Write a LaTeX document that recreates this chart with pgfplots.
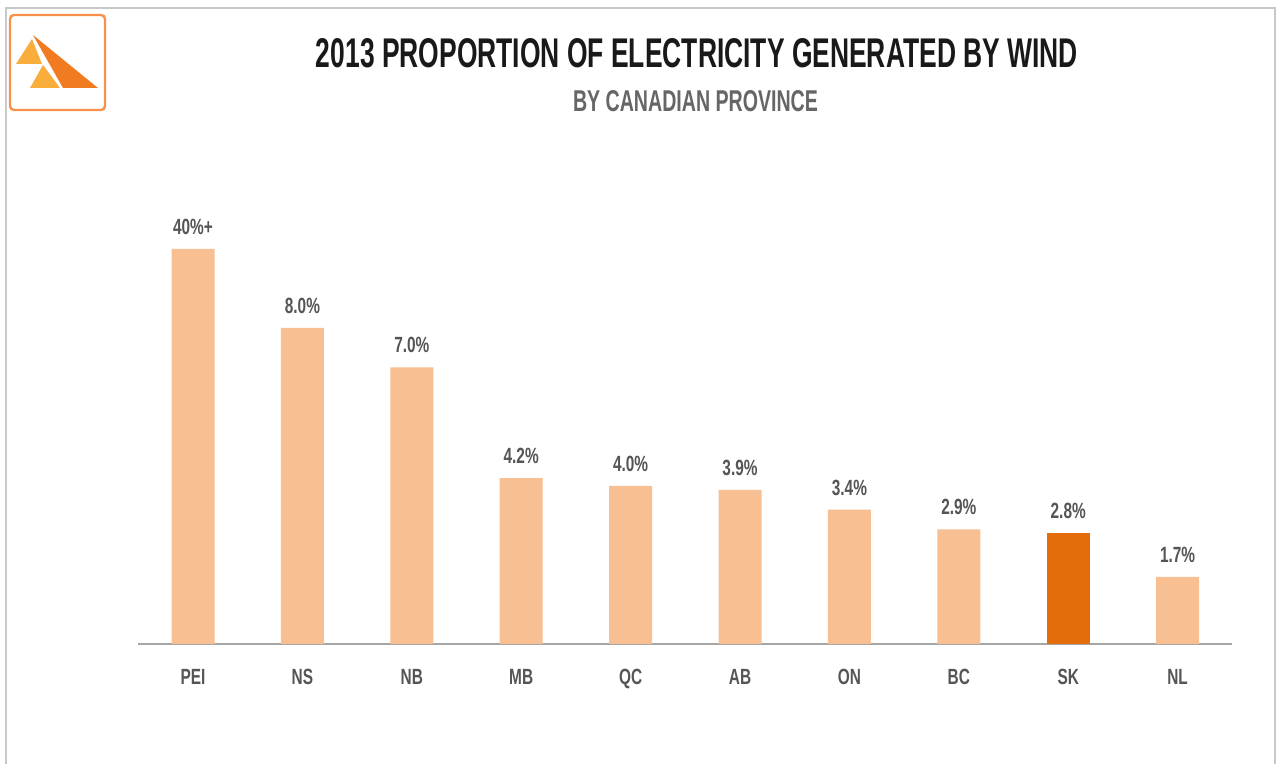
\documentclass[border=0pt]{standalone}
\usepackage{pgfplots}
\pgfplotsset{compat=1.18}
\usepackage{pgfplotstable}
\usepackage{fontspec}
\setmainfont{Liberation Sans}
\newfontfamily\cond[FakeStretch=0.7]{Liberation Sans}
\definecolor{barlight}{HTML}{F8C092}
\definecolor{bardark}{HTML}{E46C0A}
\definecolor{lbl}{HTML}{555555}
\definecolor{frame}{HTML}{C8C8C8}
\definecolor{logoline}{HTML}{F7904A}
\definecolor{logolight}{HTML}{F9AE3C}
\definecolor{logodark}{HTML}{F07B21}

\pgfplotstableread{
x y label
0 10.0 40\%+
1 8.0 8.0\%
2 7.0 7.0\%
3 4.2 4.2\%
4 4.0 4.0\%
5 3.9 3.9\%
6 3.4 3.4\%
7 2.9 2.9\%
9 1.7 1.7\%
}\lightdata
\pgfplotstableread{
x y label
8 2.8 2.8\%
}\darkdata

\begin{document}
\begin{tikzpicture}[x=0.5pt,y=0.5pt]
\useasboundingbox (0,0) rectangle (1278,764);
\fill[white] (0,0) rectangle (1278,764);
% frame
\draw[frame, line width=1.2pt] (6,-6) -- (6,756) -- (1275,756) -- (1275,-6);
% logo
\draw[logoline, line width=1.2pt, rounded corners=2pt] (10,749) rectangle (105,654);
\fill[logolight] (16,700) -- (32,725) -- (42,700) -- cycle;
\fill[logolight] (30,676) -- (43,699) -- (60,676) -- cycle;
\fill[logodark] (33,729) -- (98,676) -- (63,676) -- cycle;
% titles
\node[anchor=base, inner sep=0pt, text=black!90] at (697,696)
  {\resizebox{381pt}{14.5pt}{\bfseries 2013 PROPORTION OF ELECTRICITY GENERATED BY WIND}};
\node[anchor=base, inner sep=0pt, text=black!60] at (695.5,652)
  {\resizebox{122.5pt}{10.5pt}{\bfseries BY CANADIAN PROVINCE}};

\begin{axis}[
  at={(96.5pt,60pt)}, anchor=origin,
  scale only axis,
  width=547pt, height=217.25pt,
  xmin=-0.5, xmax=9.5, ymin=0, ymax=11,
  hide y axis,
  axis x line*=bottom,
  x axis line style={draw=black!35, line width=0.8pt, -},
  xtick={0,...,9},
  xticklabels={PEI,NS,NB,MB,QC,AB,ON,BC,SK,NL},
  major tick length=0pt,
  xticklabel style={font=\cond\bfseries\fontsize{11}{13}\selectfont, text=lbl, anchor=north, yshift=-9pt},
  clip=false,
  point meta=explicit symbolic,
  nodes near coords,
  every node near coord/.append style={font=\cond\bfseries\fontsize{11}{13}\selectfont, text=lbl, anchor=south, inner sep=0pt, yshift=7pt},
]
\addplot[ybar, bar width=21.5pt, bar shift=0pt, fill=barlight, draw=none]
  table[x=x, y=y, meta=label] {\lightdata};
\addplot[ybar, bar width=21.5pt, bar shift=0pt, fill=bardark, draw=none]
  table[x=x, y=y, meta=label] {\darkdata};
\end{axis}
\end{tikzpicture}
\end{document}
